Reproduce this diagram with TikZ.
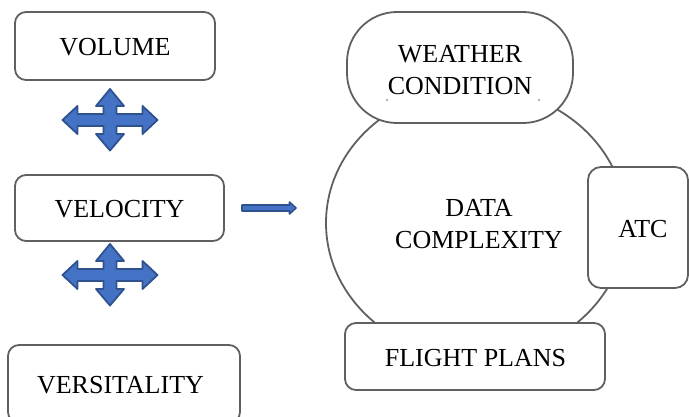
\documentclass[tikz,border=0pt]{standalone}
\usepackage{fontspec}
\setmainfont{Liberation Serif}
\usetikzlibrary{calc}
\definecolor{boxline}{HTML}{606060}
\definecolor{arrfill}{HTML}{4472C4}
\definecolor{arrline}{HTML}{2F528F}
\tikzset{
  lbl/.style={font=\fontsize{26}{32.5}\selectfont, align=center, text=black},
  rbox/.style={draw=boxline, line width=1.8pt, rounded corners=11pt, fill=white, inner sep=0pt},
  qarrow/.style={fill=arrfill, draw=arrline, line width=1.8pt, line join=round},
  quad/.pic={
    \draw[qarrow] (47.5,0) -- (32.5,-14) -- (32.5,-6) -- (6.5,-6) -- (6.5,-14) -- (14,-14)
      -- (0,-31) -- (-14,-14) -- (-6.5,-14) -- (-6.5,-6) -- (-32.5,-6) -- (-32.5,-14)
      -- (-47.5,0) -- (-32.5,14) -- (-32.5,6) -- (-6.5,6) -- (-6.5,14) -- (-14,14)
      -- (0,30.5) -- (14,14) -- (6.5,14) -- (6.5,6) -- (32.5,6) -- (32.5,14) -- cycle;
  }
}
\begin{document}
\begin{tikzpicture}[x=1pt,y=-1pt]
\useasboundingbox (0,0) rectangle (689,416);
\clip (0,0) rectangle (689,416);
% left column
\node[rbox, minimum width=200pt, minimum height=68pt] (vol) at (115,46) {};
\node[lbl] (voltxt) at (115,47) {VOLUME};
\node[rbox, minimum width=209pt, minimum height=66pt] (vel) at (119.5,208) {};
\node[lbl] (veltxt) at (119.5,209) {VELOCITY};
\node[rbox, minimum width=232pt, minimum height=78pt] (ver) at (124,384) {};
\node[lbl] (vertxt) at (120.5,385) {VERSITALITY};
\pic (q1) at (110,120) {quad};
\pic (q2) at (110,275) {quad};
% connector arrow
\coordinate (as) at (242,208);
\coordinate (ae) at (296,208);
\draw[qarrow, line width=1.6pt] ($(as)+(0,-3)$) -- ($(ae)+(-6.5,-3)$) -- ($(ae)+(-6.5,-6)$) -- (ae)
  -- ($(ae)+(-6.5,6)$) -- ($(ae)+(-6.5,3)$) -- ($(as)+(0,3)$) -- cycle;
% big ellipse
\draw[draw=boxline, line width=1.8pt] (476,223) ellipse [x radius=150, y radius=135];
\node[lbl] (data) at (479,224) {DATA\\COMPLEXITY};
% weather
\node[rbox, rounded corners=50pt, minimum width=226pt, minimum height=111pt] (wea) at (460,67.5) {};
\node[lbl] (weatxt) at (460,70) {WEATHER\\CONDITION};
\fill[black!60] (387,100) circle (0.9);
\fill[black!60] (539,100) circle (0.9);
% ATC
\node[rbox, rounded corners=13pt, minimum width=100pt, minimum height=121pt] (atc) at (638,227.5) {};
\node[lbl] (atctxt) at (643,229) {ATC};
% flight plans
\node[rbox, minimum width=260pt, minimum height=67pt] (fp) at (475,356.5) {};
\node[lbl] (fptxt) at (475.5,358) {FLIGHT PLANS};
\end{tikzpicture}
\end{document}
